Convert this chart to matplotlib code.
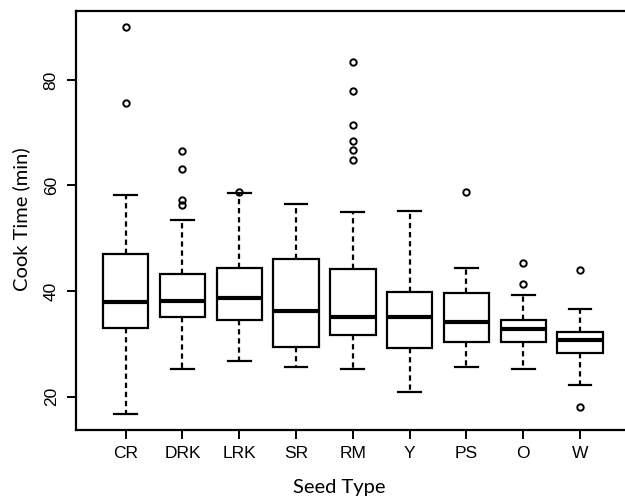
import matplotlib
matplotlib.use("Agg")
import matplotlib.pyplot as plt

##################################################################################
# data
##################################################################################
seed_types = ["CR", "DRK", "LRK", "SR", "RM", "Y", "PS", "O", "W"]
whislo = [16.65, 25.2, 26.7, 25.6, 25.2, 20.9, 25.7, 25.2, 22.3]
q1 = [33.1, 35.0, 34.5, 29.4, 31.6, 29.2, 30.3, 30.3, 28.3]
med = [37.9, 38.1, 38.6, 36.2, 35.0, 35.0, 34.2, 32.9, 30.7]
q3 = [47.1, 43.2, 44.3, 46.1, 44.1, 39.9, 39.6, 34.5, 32.3]
whishi = [58.2, 53.5, 58.5, 56.5, 54.9, 55.2, 44.3, 39.3, 36.7]
fliers = [
    [90.0, 75.6],
    [66.5, 63.1, 57.3, 56.4],
    [58.7],
    [],
    [83.4, 77.9, 71.5, 68.4, 66.7, 64.9],
    [],
    [58.7],
    [45.3, 41.4],
    [44.0, 18.1],
]
yticks = [20, 40, 60, 80]

stats = [dict(label=s, whislo=lo, q1=a, med=m, q3=b, whishi=hi, fliers=f)
         for s, lo, a, m, b, hi, f in zip(seed_types, whislo, q1, med, q3, whishi, fliers)]

##################################################################################
# figure
##################################################################################
plt.rcParams["font.family"] = ["Liberation Sans", "DejaVu Sans"]
plt.rcParams["xtick.labelsize"] = 12.5
plt.rcParams["ytick.labelsize"] = 12.5

fig = plt.figure(figsize=(6.25, 4.99), dpi=100)
W, H = 625, 499
ax = fig.add_axes([76 / W, 1 - 430 / H, (629.7 - 76) / W, (430 - 11) / H])

lw = 1.6
ax.bxp(stats, positions=range(1, len(stats) + 1), widths=0.8, patch_artist=True,
       boxprops=dict(facecolor="white", edgecolor="black", linewidth=lw),
       medianprops=dict(color="black", linewidth=3.0, solid_capstyle="butt"),
       whiskerprops=dict(color="black", linewidth=lw, linestyle=(0, (2.4, 1.7))),
       capprops=dict(color="black", linewidth=lw),
       flierprops=dict(marker="o", markerfacecolor="none", markeredgecolor="black",
                       markersize=4.6, markeredgewidth=1.4))

ax.set_xlim(0.125, 9.875)
ax.set_ylim(13.69, 93.05)
ax.set_yticks(yticks)
ax.set_yticklabels([str(t) for t in yticks], rotation=90, va="center")
ax.set_xticks(range(1, len(seed_types) + 1))
ax.set_xticklabels(seed_types)

ax.tick_params(axis="both", length=6.5, width=1.4, direction="out", color="black")
ax.tick_params(axis="x", pad=5)
ax.tick_params(axis="y", pad=6)
for sp in ax.spines.values():
    sp.set_linewidth(1.6)

fig.text(339 / W, 1 - 487 / H, "Seed Type", family="Lato", fontsize=14.5,
         ha="center", va="center")
fig.text(21 / W, 1 - 219 / H, "Cook Time (min)", family="Lato", fontsize=14.5,
         ha="center", va="center", rotation=90)

fig.savefig("out.png", dpi=100)
